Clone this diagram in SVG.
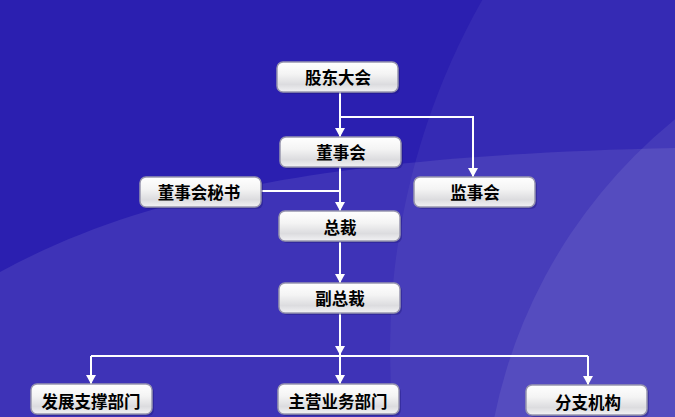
<svg xmlns="http://www.w3.org/2000/svg" width="675" height="417" viewBox="0 0 675 417">
<defs>
<linearGradient id="box" x1="0" y1="0" x2="0" y2="1">
<stop offset="0" stop-color="#ffffff"/>
<stop offset="0.4" stop-color="#f4f4f4"/>
<stop offset="0.75" stop-color="#dcdcdf"/>
<stop offset="1" stop-color="#f2f2f4"/>
</linearGradient>
<marker id="arr" viewBox="0 0 9 10" refX="9" refY="5" markerWidth="9" markerHeight="10" markerUnits="userSpaceOnUse" orient="auto">
<path d="M0,0 L9,5 L0,10 Z" fill="#ffffff"/>
</marker>
<style>
.bx{fill:url(#box);stroke:#9896ae;stroke-width:1.5}
.sh{fill:#1a1470;opacity:0.35}
.t{font-family:"Noto Sans CJK SC","Noto Sans",sans-serif;font-weight:bold;font-size:16.5px;fill:#000;text-anchor:middle;dominant-baseline:central}
.ln{stroke:#ffffff;stroke-width:2;fill:none}
</style>
</defs>
<rect width="675" height="417" fill="#2b1fb0"/>
<path d="M0,272 C150,190 350,155 675,148 L675,417 L0,417 Z" fill="#ffffff" opacity="0.09"/>
<circle cx="1100" cy="350" r="710" fill="#ffffff" opacity="0.05"/>
<circle cx="1000" cy="520" r="516" fill="#ffffff" opacity="0.08"/>

<g id="connectors">
<path class="ln" d="M340,92 V137" marker-end="url(#arr)"/>
<path class="ln" d="M340,117 H473 V177" marker-end="url(#arr)"/>
<path class="ln" d="M340,167 V211" marker-end="url(#arr)"/>
<path class="ln" d="M261,191 H340"/>
<path class="ln" d="M340,242 V283" marker-end="url(#arr)"/>
<path class="ln" d="M340,313 V355" marker-end="url(#arr)"/>
<path class="ln" d="M91,356 H588"/>
<path class="ln" d="M91,356 V384" marker-end="url(#arr)"/>
<path class="ln" d="M340,356 V384" marker-end="url(#arr)"/>
<path class="ln" d="M588,356 V385" marker-end="url(#arr)"/>
</g>

<g id="n1"><rect class="sh" x="279" y="64" width="121" height="30" rx="6"/><rect class="bx" x="277" y="62" width="121" height="30" rx="6"/><text class="t" x="338" y="77">股东大会</text></g>
<g id="n2"><rect class="sh" x="282" y="139" width="121" height="30" rx="6"/><rect class="bx" x="280" y="137" width="121" height="30" rx="6"/><text class="t" x="341" y="152">董事会</text></g>
<g id="n3"><rect class="sh" x="142" y="179" width="121" height="30" rx="6"/><rect class="bx" x="140" y="177" width="121" height="30" rx="6"/><text class="t" x="199" y="192">董事会秘书</text></g>
<g id="n4"><rect class="sh" x="416" y="179" width="121" height="30" rx="6"/><rect class="bx" x="414" y="177" width="121" height="30" rx="6"/><text class="t" x="475" y="192">监事会</text></g>
<g id="n5"><rect class="sh" x="281" y="213" width="121" height="30" rx="6"/><rect class="bx" x="279" y="211" width="121" height="30" rx="6"/><text class="t" x="340" y="227">总裁</text></g>
<g id="n6"><rect class="sh" x="281" y="285" width="121" height="30" rx="6"/><rect class="bx" x="279" y="283" width="121" height="30" rx="6"/><text class="t" x="340" y="298">副总裁</text></g>
<g id="n7"><rect class="sh" x="33" y="386" width="121" height="30" rx="6"/><rect class="bx" x="31" y="384" width="121" height="30" rx="6"/><text class="t" x="91" y="401">发展支撑部门</text></g>
<g id="n8"><rect class="sh" x="280" y="386" width="121" height="30" rx="6"/><rect class="bx" x="278" y="384" width="121" height="30" rx="6"/><text class="t" x="338" y="401">主营业务部门</text></g>
<g id="n9"><rect class="sh" x="528" y="387" width="121" height="30" rx="6"/><rect class="bx" x="526" y="385" width="121" height="30" rx="6"/><text class="t" x="588" y="402">分支机构</text></g>
</svg>
